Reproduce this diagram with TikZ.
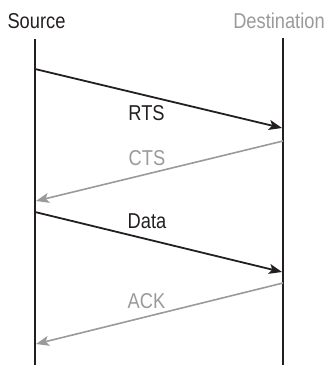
\documentclass[tikz,border=0pt]{standalone}
\usepackage{fontspec}
\setmainfont{Liberation Sans}[FakeStretch=0.85]
\usetikzlibrary{arrows.meta}
\definecolor{ink}{HTML}{231F20}
\definecolor{greyline}{HTML}{9A9A9A}
\tikzset{
  lifeline/.style={draw=ink, line width=1.3pt},
  msgdark/.style={draw=ink, line width=1.8pt, -{Stealth[length=13pt,width=10pt,inset=3pt]}},
  msglight/.style={draw=greyline, line width=1.6pt, -{Stealth[length=13pt,width=10pt,inset=3pt]}},
  actor/.style={font=\fontsize{21.5}{25}\selectfont, inner sep=0pt, anchor=base},
  msglabel/.style={font=\fontsize{21.5}{25}\selectfont, inner sep=0pt, anchor=base},
}
\begin{document}
\begin{tikzpicture}[x=1pt,y=-1pt]
\useasboundingbox (0,0) rectangle (329,365);
\node[actor, text=ink] (src) at (36.5,28) {Source};
\node[actor, text=greyline] (dst) at (279,28) {Destination};
\coordinate (s0) at (35,39);
\coordinate (sB) at (35,365);
\coordinate (d0) at (283,38);
\coordinate (dB) at (283,365);
\draw[lifeline] (s0) -- (sB);
\draw[lifeline] (d0) -- (dB);
% message end points
\coordinate (rtsA) at (35,69);
\coordinate (rtsB) at (282,128);
\coordinate (ctsA) at (283,141);
\coordinate (ctsB) at (36,201);
\coordinate (datA) at (35,212);
\coordinate (datB) at (282,272);
\coordinate (ackA) at (283,283);
\coordinate (ackB) at (36,344);
\draw[msgdark] (rtsA) -- (rtsB);
\draw[msglight] (ctsA) -- (ctsB);
\draw[msgdark] (datA) -- (datB);
\draw[msglight] (ackA) -- (ackB);
\node[msglabel, text=ink] (rts) at (146.5,120.5) {RTS};
\node[msglabel, text=greyline] (cts) at (147,165.5) {CTS};
\node[msglabel, text=ink] (dat) at (147,228.5) {Data};
\node[msglabel, text=greyline] (ack) at (146.5,308.5) {ACK};
\end{tikzpicture}
\end{document}
